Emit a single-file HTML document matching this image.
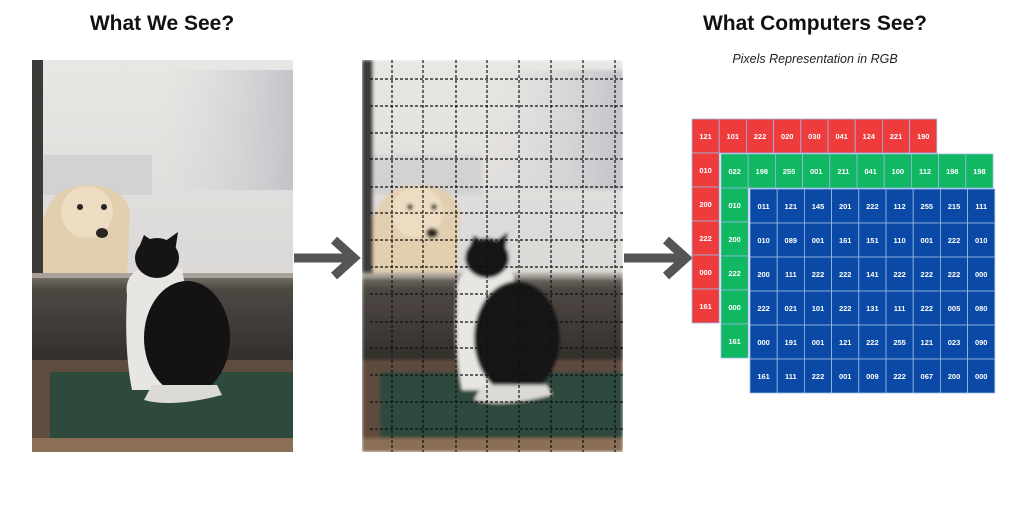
<!DOCTYPE html>
<html><head><meta charset="utf-8">
<style>
body{margin:0;width:1024px;height:512px;background:#fff;position:relative;overflow:hidden;font-family:"Liberation Sans",sans-serif}
.title{position:absolute;top:12px;font-weight:bold;font-size:21px;color:#111;text-align:center}
.sub{position:absolute;top:52px;left:700px;width:230px;text-align:center;font-style:italic;font-size:12.5px;color:#222}
svg{position:absolute;left:0;top:0}
</style></head><body>
<div class="title" style="left:62px;width:200px">What We See?</div>
<div class="title" style="left:690px;width:250px">What Computers See?</div>
<div class="sub">Pixels Representation in RGB</div>
<svg width="1024" height="512" id="s">
<defs>
<linearGradient id="win" x1="0" y1="0" x2="0" y2="1"><stop offset="0" stop-color="#e9e7e4"/><stop offset="0.5" stop-color="#dcdad8"/><stop offset="1" stop-color="#e6e2dc"/></linearGradient>
<linearGradient id="wall" x1="0" y1="0" x2="0" y2="1"><stop offset="0" stop-color="#7a746d"/><stop offset="0.15" stop-color="#4e4843"/><stop offset="1" stop-color="#302c29"/></linearGradient>
<linearGradient id="house" x1="0" y1="0" x2="1" y2="0"><stop offset="0" stop-color="#d4d4d6" stop-opacity="0"/><stop offset="1" stop-color="#b9bcc4"/></linearGradient>
<filter id="bl"><feGaussianBlur stdDeviation="1.5"/></filter>
<clipPath id="clipM"><rect x="362" y="60" width="261" height="392"/></clipPath>
<g id="photo">
<rect x="0" y="0" width="261" height="392" fill="url(#win)"/>
<rect x="130" y="10" width="131" height="120" fill="url(#house)" opacity="0.8"/>
<rect x="0" y="95" width="120" height="40" fill="#c9c9cb" opacity="0.6"/>
<rect x="0" y="0" width="11" height="220" fill="#3c3a39"/>
<path d="M11 215 L11 160 Q20 125 55 125 Q90 125 98 150 L95 215 Z" fill="#e2cfb0"/>
<ellipse cx="55" cy="152" rx="26" ry="26" fill="#ecdcc2"/>
<circle cx="48" cy="147" r="3" fill="#222"/><circle cx="72" cy="147" r="3" fill="#222"/>
<ellipse cx="70" cy="173" rx="6" ry="5" fill="#2a2522"/>
<rect x="0" y="215" width="261" height="95" fill="url(#wall)"/>
<rect x="0" y="213" width="261" height="5" fill="#a8a29b"/>
<rect x="0" y="372" width="261" height="20" fill="#8a6e55"/>
<rect x="0" y="300" width="261" height="78" fill="#5e4c3e"/>
<rect x="18" y="312" width="243" height="66" fill="#2e4a3c"/>
<path d="M95 235 Q92 215 110 208 L150 208 Q160 260 150 330 L100 330 Q92 290 95 235 Z" fill="#e8e6e2"/>
<ellipse cx="155" cy="278" rx="43" ry="57" fill="#141212"/>
<ellipse cx="125" cy="198" rx="22" ry="20" fill="#161414"/>
<path d="M106 190 L112 175 L122 182 Z M132 182 L146 172 L143 192 Z" fill="#161414"/>
<path d="M112 340 Q140 348 190 335 L185 325 L120 325 Z" fill="#dcdad6"/>
</g>
</defs>
<use href="#photo" x="32" y="60"/>
<g clip-path="url(#clipM)"><g filter="url(#bl)"><use href="#photo" x="362" y="60"/></g></g>
<g id="grid" stroke="#111" stroke-width="1.2" stroke-dasharray="3,2"></g>
<g id="arrows" fill="#555" stroke="#555"></g>
<g id="rgb"></g>
</svg>
<script>
const NS="http://www.w3.org/2000/svg";
function mk(t,a,p){const e=document.createElementNS(NS,t);for(const k in a)e.setAttribute(k,a[k]);p.appendChild(e);return e;}
const g=document.getElementById('grid');
[392,423,456,487,519,551,583,615].forEach(x=>{const l=mk('line',{x1:x,y1:60,x2:x,y2:452},g);

});
[79,106,133,159,187,213,240,267,294,322,348,375,402,429].forEach(y=>{const l=mk('line',{x1:370,y1:y,x2:623,y2:y},g);

});
const A=document.getElementById('arrows');
[[294,358],[624,690]].forEach(([a,b])=>{
const ln=mk('line',{x1:a,y1:258,x2:b-6,y2:258,'stroke-width':9},A);


const hd=mk('polyline',{points:`${b-24},240 ${b-4},258 ${b-24},276`,fill:'none','stroke-width':9,'stroke-linejoin':'miter'},A);

});
const redTop=["121","101","222","020","030","041","124","221","190"];
const redLeft=["010","200","222","000","161"];
const greenTop=["022","198","255","001","211","041","100","112","198"];
const greenLeft=["010","200","222","000","161"];
const blue=[["011","121","145","201","222","112","255","215","111"],
["010","089","001","161","151","110","001","222","010"],
["200","111","222","222","141","222","222","222","000"],
["222","021","101","222","131","111","222","005","080"],
["000","191","001","121","222","255","121","023","090"],
["161","111","222","001","009","222","067","200","000"]];
const R=document.getElementById('rgb');const W=27.2,H=34;
function cell(x,y,v,c,name){const gg=mk('g',{},R);


mk('rect',{x:x,y:y,width:W,height:H,fill:c,stroke:'#9ab8e8','stroke-width':0.8},gg);
const t=mk('text',{x:x+W/2,y:y+H/2+3,'text-anchor':'middle','font-size':7.5,'font-weight':'bold',fill:'#fff','font-family':'Liberation Sans, sans-serif'},gg);t.textContent=v;}
redTop.forEach((v,i)=>cell(692+i*W,119,v,'#ee3b3b','red-cell'));
redLeft.forEach((v,i)=>cell(692,119+(i+1)*H,v,'#ee3b3b','red-cell'));
greenTop.forEach((v,i)=>cell(721+i*W,154,v,'#10b862','green-cell'));
cell(721+9*W,154,"198",'#10b862','green-cell');
greenLeft.forEach((v,i)=>cell(721,154+(i+1)*H,v,'#10b862','green-cell'));
blue.forEach((row,r)=>row.forEach((v,c)=>cell(750+c*W,189+r*H,v,'#0a4aa6','blue-cell')));
</script>
</body></html>
